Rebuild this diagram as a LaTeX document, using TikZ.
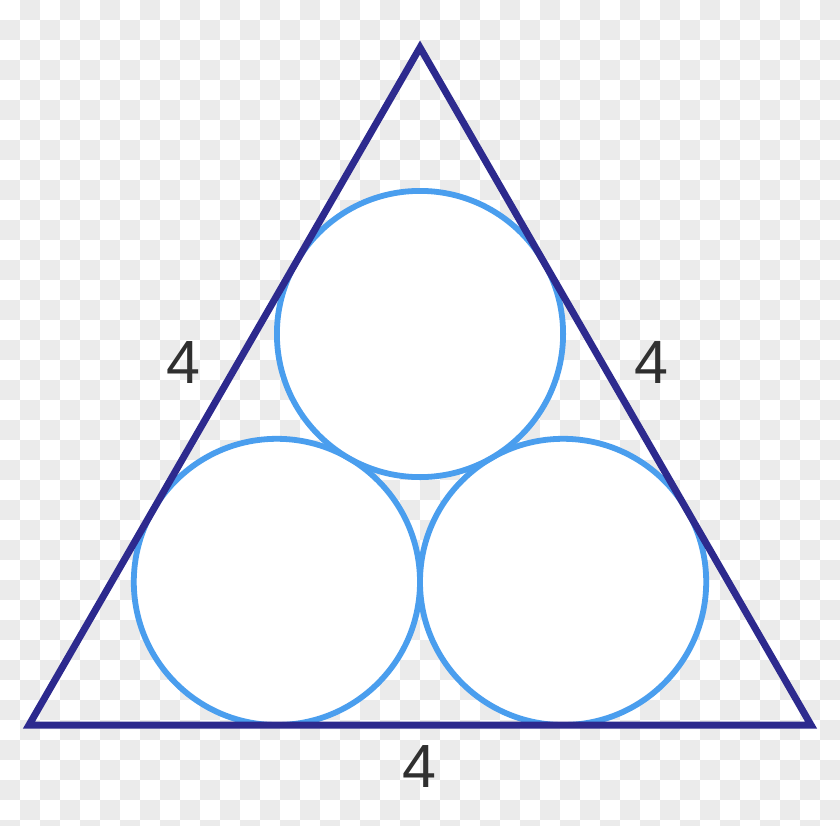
\documentclass[tikz,border=0pt]{standalone}
\usepackage{fontspec}
\setmainfont{Liberation Sans}
\definecolor{chk}{RGB}{235,235,235}
\definecolor{tri}{RGB}{45,42,142}
\definecolor{ball}{RGB}{74,158,238}
\definecolor{lbl}{RGB}{48,48,48}
\tikzset{
  ballnode/.style={circle, draw=ball, fill=white, line width=5.8pt, minimum size=286.2pt, inner sep=0pt},
  sidelabel/.style={text=lbl, font=\fontsize{61}{61}\selectfont, anchor=base, inner sep=0pt}
}
\begin{document}
\begin{tikzpicture}[x=1pt,y=-1pt]
\useasboundingbox (0,0) rectangle (840,825);
\fill[white] (0,0) rectangle (840,825);
\begin{scope}
\clip (0,0) rectangle (840,825);
\foreach \i in {0,...,41} {
  \foreach \j in {0,...,41} {
    \pgfmathtruncatemacro\p{mod(\i+\j,2)}
    \ifnum\p=1 \fill[chk] (\i*20,\j*20) rectangle ++(20,20); \fi
  }
}
\end{scope}
\coordinate (A) at (420,47.5);
\coordinate (B) at (29,725);
\coordinate (C) at (811,725);
\node[ballnode] (c1) at (276.9,581.9) {};
\node[ballnode] (c2) at (563.1,581.9) {};
\node[ballnode] (c3) at (420,334) {};
\draw[tri, line width=7pt, line join=miter] (A) -- (B) -- (C) -- cycle;
\node[sidelabel] (l1) at (183,383) {4};
\node[sidelabel] (l2) at (651,383) {4};
\node[sidelabel] (l3) at (419,787) {4};
\end{tikzpicture}
\end{document}
